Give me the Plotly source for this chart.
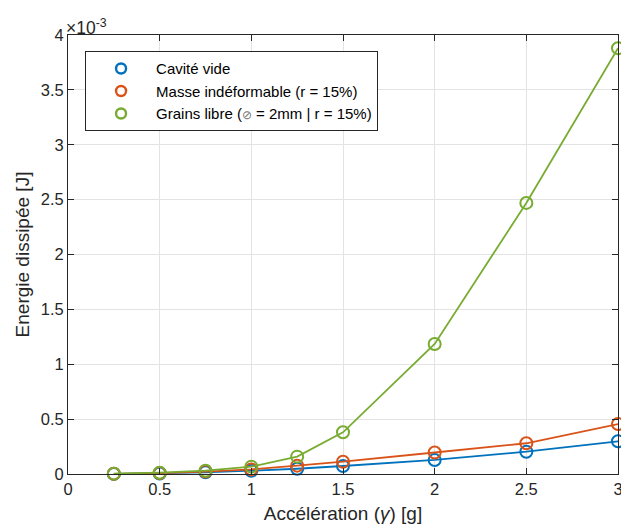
import plotly.graph_objects as go

accel = [0.25, 0.5, 0.75, 1.0, 1.25, 1.5, 2.0, 2.5, 3.0]
# Energy values in units of 1e-3 J
cavite_vide = [0.001, 0.005, 0.015, 0.03, 0.048, 0.073, 0.128, 0.203, 0.298]
masse_indef = [0.002, 0.008, 0.022, 0.042, 0.076, 0.112, 0.196, 0.28, 0.455]
grains_libre = [0.003, 0.012, 0.03, 0.067, 0.158, 0.38, 1.185, 2.47, 3.88]

names = ["Cavité vide", "Masse indéformable (r = 15%)",
         "Grains libre (<span style='font-size:12px;color:#777'>⊘</span> = 2mm | r = 15%)"]
colors = ["#0072BD", "#D95319", "#77AC30"]
series = [cavite_vide, masse_indef, grains_libre]

fig = go.Figure()
for s, c in zip(series, colors):
    fig.add_trace(go.Scatter(
        x=accel, y=s, mode="lines+markers", showlegend=False, cliponaxis=False,
        line=dict(color=c, width=1.8),
        marker=dict(symbol="circle-open", size=12, color=c, line=dict(width=2, color=c)),
    ))
for n, c in zip(names, colors):
    fig.add_trace(go.Scatter(
        x=[None], y=[None], mode="markers", name=n,
        marker=dict(symbol="circle-open", size=10, color=c, line=dict(width=2.4, color=c)),
    ))

axis_common = dict(
    showgrid=True, gridcolor="#e3e3e3", gridwidth=1,
    showline=True, linecolor="#262626", linewidth=1, mirror="ticks",
    ticks="inside", ticklen=6, tickcolor="#262626",
    zeroline=False, tickfont=dict(size=16.5, color="#262626"),
)

fig.update_layout(
    width=621, height=524,
    margin=dict(l=60, r=6, t=27, b=58),
    paper_bgcolor="white", plot_bgcolor="white",
    font=dict(family="Liberation Sans, Arial, sans-serif", color="#262626"),
    xaxis=dict(range=[0, 3], dtick=0.5, tick0=0,
               title=dict(text="Accélération (<i>γ</i>) [g]", font=dict(size=19), standoff=9),
               **axis_common),
    yaxis=dict(range=[0, 4], dtick=0.5, tick0=0,
               title=dict(text="Energie dissipée [J]", font=dict(size=19), standoff=6),
               **axis_common),
    legend=dict(x=0.031, y=0.963, xanchor="left", yanchor="top",
                bgcolor="white", bordercolor="#262626", borderwidth=1,
                font=dict(size=15, color="#000"), itemwidth=60,
                tracegroupgap=0),
    showlegend=True,
)
fig.add_annotation(
    x=0, y=1, xref="paper", yref="paper", xanchor="left", yanchor="bottom",
    text="×10<sup>-3</sup>", showarrow=False, font=dict(size=17.5, color="#262626"),
    xshift=-4, yshift=-5,
)

fig.write_html("out.html")
